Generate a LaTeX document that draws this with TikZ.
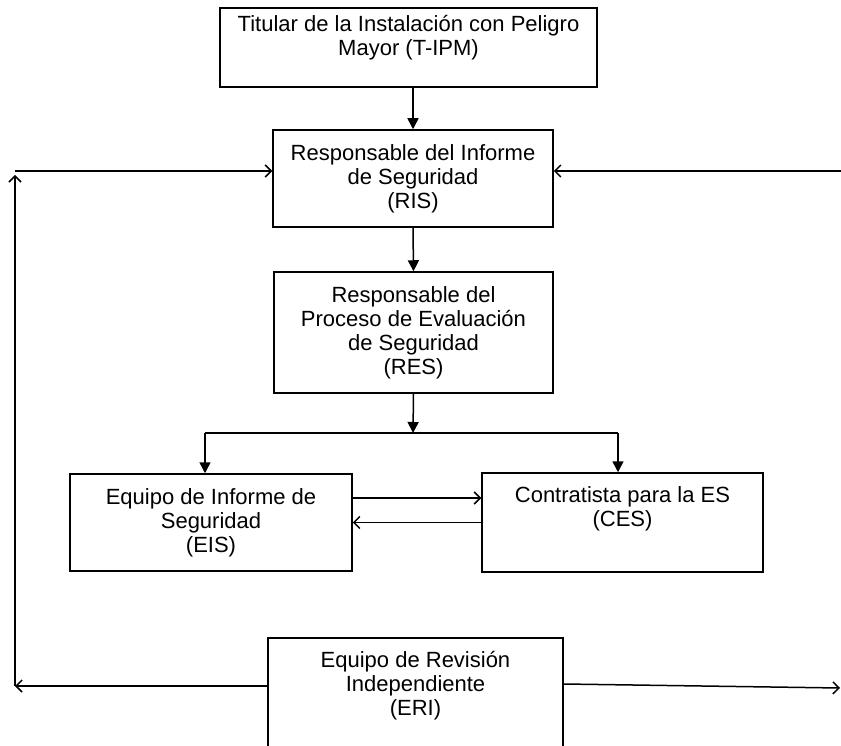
\documentclass[tikz,border=0pt]{standalone}
\usepackage{fontspec}
\setmainfont{Liberation Sans}
\usetikzlibrary{arrows.meta}

\begin{document}
\begin{tikzpicture}[x=1pt, y=-1pt,
  box/.style={draw, line width=1.5pt, align=center, inner sep=0pt,
    font=\fontsize{22}{24}\selectfont},
  flow/.style={line width=1.5pt, -{Triangle[length=11pt, width=11pt]}},
  link/.style={line width=1.5pt, -{Straight Barb[length=6pt, width=12pt]}}]

\useasboundingbox (0,0) rectangle (841,746);

% ------------------------
% Boxes
% ------------------------
\node[box, minimum width=377pt, minimum height=79pt] (tipm) at (408.5,47.5)
  {Titular de la Instalación con Peligro\\Mayor (T-IPM)\\ \mbox{}};
\node[box, minimum width=280pt, minimum height=97pt] (ris) at (413,178.5)
  {Responsable del Informe\\de Seguridad\\(RIS)};
\node[box, minimum width=279pt, minimum height=121pt] (res) at (413.5,332.5)
  {Responsable del\\Proceso de Evaluación\\de Seguridad\\(RES)};
\node[box, minimum width=282pt, minimum height=97pt] (eis) at (211,522.5)
  {Equipo de Informe de\\Seguridad\\(EIS)};
\node[box, minimum width=281pt, minimum height=99pt] (ces) at (622.5,522.5)
  {Contratista para la ES\\(CES)\\ \strut};
\node[box, minimum width=295pt, minimum height=121pt] (eri) at (415.5,698.5)
  {Equipo de Revisión\\Independiente\\(ERI)\\ \strut};

% ------------------------
% Branch and loop points
% ------------------------
\coordinate (split) at (413,433);
\coordinate (splitL) at (205,433);
\coordinate (splitR) at (618,433);
\coordinate (loopL) at (15,171);
\coordinate (loopLB) at (15,686);
\coordinate (edgeR) at (841,171);
\coordinate (edgeRB) at (840,688);

% ------------------------
% Main chain
% ------------------------
\draw[flow] (ris.north |- tipm.south) -- (ris.north);
\draw[flow] (ris.south) -- (res.north);
\draw[flow] (res.south) -- (split);
\draw[line width=1.5pt] (splitL) -- (splitR);
\draw[flow] (splitL) -- (splitL |- eis.north);
\draw[flow] (splitR) -- (splitR |- ces.north);

% EIS <-> CES
\draw[link] ([yshift=24.5pt]eis.east) -- ([yshift=24.5pt]eis.east -| ces.west);
\draw[link] (ces.west) -- (eis.east);

% ------------------------
% Review loop (ERI)
% ------------------------
\draw[link] (loopL) -- (loopL -| ris.west);
\draw[link] (edgeR) -- (edgeR -| ris.east);
\draw[link] ([yshift=12.5pt]eri.west) -- (loopLB);
\draw[link] (loopLB) -- ([yshift=-4pt]loopL);
\draw[link] ([yshift=14.5pt]eri.east) -- (edgeRB);

\end{tikzpicture}
\end{document}
